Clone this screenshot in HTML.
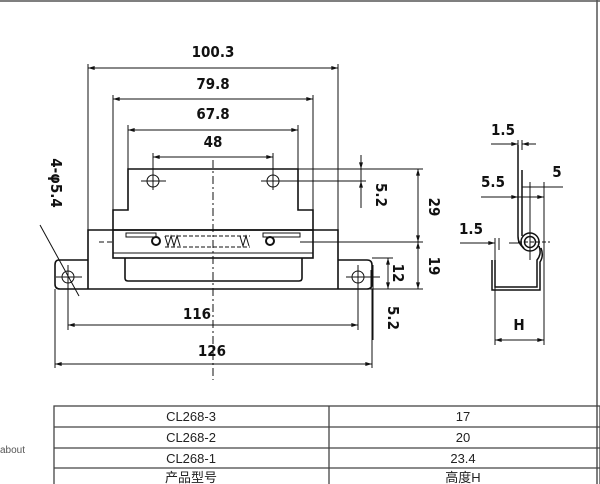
<!DOCTYPE html>
<html><head><meta charset="utf-8"><style>
html,body{margin:0;padding:0;background:#fff;width:600px;height:484px;overflow:hidden}
svg{display:block}
.d{font-family:"DejaVu Sans Condensed","DejaVu Sans","Liberation Sans",sans-serif;font-stretch:condensed;font-weight:bold;font-size:15px;fill:#111}
.t{font-family:"Liberation Sans","Noto Sans CJK SC",sans-serif;font-size:13px;fill:#222}
</style></head><body>
<svg width="600" height="484" viewBox="0 0 600 484" xmlns="http://www.w3.org/2000/svg">
<defs>
<marker id="a" viewBox="0 0 10 6" refX="10" refY="3" markerWidth="8" markerHeight="4" orient="auto-start-reverse"><path d="M0,0L10,3L0,6z" fill="#111"/></marker>
</defs>
<g stroke="#111" fill="none" stroke-width="1">
<line x1="0" y1="1" x2="600" y2="1" stroke="#555" stroke-width="1.5"/>
<line x1="597" y1="0" x2="597" y2="484" stroke="#555" stroke-width="1.5"/>
<line x1="88" y1="64" x2="88" y2="230"/><line x1="338" y1="64" x2="338" y2="230"/>
<line x1="88" y1="68" x2="338" y2="68" marker-start="url(#a)" marker-end="url(#a)"/>
<line x1="113" y1="95" x2="113" y2="230"/><line x1="313" y1="95" x2="313" y2="230"/>
<line x1="113" y1="99" x2="313" y2="99" marker-start="url(#a)" marker-end="url(#a)"/>
<line x1="128" y1="125" x2="128" y2="169"/><line x1="298" y1="125" x2="298" y2="169"/>
<line x1="128" y1="130" x2="298" y2="130" marker-start="url(#a)" marker-end="url(#a)"/>
<line x1="153" y1="153" x2="153" y2="190"/><line x1="273" y1="153" x2="273" y2="190"/>
<line x1="153" y1="157" x2="273" y2="157" marker-start="url(#a)" marker-end="url(#a)"/>
<path d="M113,230 V210 H128 V169 H298 V210 H313 V230" stroke-width="1.6"/>
<circle cx="153" cy="181" r="6"/><circle cx="273" cy="181" r="6"/>
<line x1="141" y1="181" x2="166" y2="181"/><line x1="153" y1="172" x2="153" y2="190"/>
<line x1="261" y1="181" x2="366" y2="181"/><line x1="273" y1="172" x2="273" y2="190"/>
<line x1="298" y1="169" x2="423" y2="169"/>
<path d="M88,289 V230 H338 V289" stroke-width="1.6"/>
<path d="M88,260 H59 Q55,260 55,265 V284 Q55,289 60,289 H367 Q372,289 372,284 V265 Q372,260 367,260 H338" stroke-width="1.6"/>
<rect x="113" y="230" width="200" height="28" stroke-width="1.6"/>
<line x1="113" y1="253" x2="313" y2="253"/>
<path d="M125,258 V278 Q125,281 128,281 H299 Q302,281 302,278 V258" stroke-width="1.6"/>
<rect x="126" y="233" width="30" height="4"/><rect x="263" y="233" width="37" height="4"/>
<circle cx="156" cy="241" r="4" stroke-width="2"/><circle cx="270" cy="241" r="4" stroke-width="2"/>
<path d="M165,236 l3,10 l3,-10 l3,10 l3,-10 l3,10" /><path d="M240,236 l3,10 l3,-10 l3,10"/>
<line x1="165" y1="236" x2="250" y2="236" stroke-dasharray="4,2"/>
<line x1="165" y1="247" x2="250" y2="247" stroke-dasharray="4,2"/>
<line x1="99" y1="242" x2="113" y2="242" stroke-dasharray="5,3"/>
<line x1="300" y1="242" x2="423" y2="242"/>
<circle cx="68" cy="277" r="6"/><circle cx="358" cy="277" r="6"/>
<line x1="56" y1="277" x2="82" y2="277"/><line x1="346" y1="277" x2="380" y2="277"/>
<line x1="68" y1="265" x2="68" y2="330"/><line x1="358" y1="265" x2="358" y2="330"/>
<line x1="55" y1="289" x2="55" y2="368"/><line x1="372" y1="289" x2="372" y2="368"/>
<line x1="68" y1="325" x2="358" y2="325" marker-start="url(#a)" marker-end="url(#a)"/>
<line x1="55" y1="364" x2="372" y2="364" marker-start="url(#a)" marker-end="url(#a)"/>
<line x1="213" y1="160" x2="213" y2="380" stroke-dasharray="8,3,2,3"/>
<line x1="40" y1="225" x2="79" y2="296"/>
<line x1="418" y1="169" x2="418" y2="242" marker-start="url(#a)" marker-end="url(#a)"/>
<line x1="418" y1="242" x2="418" y2="289" marker-start="url(#a)" marker-end="url(#a)"/>
<line x1="338" y1="289" x2="423" y2="289"/>
<line x1="361" y1="155" x2="361" y2="169" marker-end="url(#a)"/>
<line x1="361" y1="208" x2="361" y2="181" marker-end="url(#a)"/>
<line x1="361" y1="169" x2="361" y2="181"/>
<line x1="372" y1="258" x2="393" y2="258"/>
<line x1="388" y1="258" x2="388" y2="289" marker-start="url(#a)" marker-end="url(#a)"/>
<line x1="373" y1="265" x2="373" y2="340"/><line x1="371" y1="270" x2="371" y2="289" />
<g stroke-width="1.5">
<path d="M518,145 V236 Q518,244 524,248"/>
<path d="M522,170 V236"/>
<circle cx="530" cy="242" r="9"/><circle cx="530" cy="242" r="5.5"/>
<path d="M539,246 Q542,254 537,260 V287 H495 V260"/>
<path d="M541,248 Q544,256 540,262 V290 H492 V260"/>
</g>
<line x1="518" y1="140" x2="518" y2="150"/><line x1="522" y1="140" x2="522" y2="150"/>
<line x1="491" y1="144" x2="518" y2="144" marker-end="url(#a)"/>
<line x1="536" y1="144" x2="522" y2="144" marker-end="url(#a)"/>
<line x1="481" y1="197" x2="518" y2="197" marker-end="url(#a)"/>
<line x1="530" y1="182" x2="530" y2="260"/><line x1="544" y1="182" x2="544" y2="345"/>
<line x1="522" y1="187" x2="563" y2="187"/>
<line x1="518" y1="197" x2="544" y2="197" marker-end="url(#a)"/>
<line x1="460" y1="243" x2="495" y2="243" marker-end="url(#a)"/>
<line x1="495" y1="238" x2="495" y2="345"/><line x1="499" y1="238" x2="499" y2="250"/>
<line x1="509" y1="243" x2="520" y2="243"/><line x1="518" y1="242" x2="550" y2="242" stroke-dasharray="4,2"/>
<line x1="495" y1="340" x2="544" y2="340" marker-start="url(#a)" marker-end="url(#a)"/>
<g stroke="#444" stroke-width="1.3">
<rect x="54" y="406" width="546" height="80"/>
<line x1="54" y1="427" x2="600" y2="427"/><line x1="54" y1="448" x2="600" y2="448"/><line x1="54" y1="468" x2="600" y2="468"/>
<line x1="329" y1="406" x2="329" y2="484"/>
</g>
</g>
<g class="d" text-anchor="middle">
<text x="213" y="57">100.3</text>
<text x="213" y="89">79.8</text>
<text x="213" y="119">67.8</text>
<text x="213" y="147">48</text>
<text x="197" y="319">116</text>
<text x="212" y="356">126</text>
<text x="503" y="135">1.5</text>
<text x="493" y="187">5.5</text>
<text x="557" y="177">5</text>
<text x="471" y="234">1.5</text>
<text x="519" y="330">H</text>
<text transform="translate(376,195) rotate(90)">5.2</text>
<text transform="translate(429,207) rotate(90)">29</text>
<text transform="translate(429,266) rotate(90)">19</text>
<text transform="translate(393,273) rotate(90)">12</text>
<text transform="translate(388,318) rotate(90)">5.2</text>
<text transform="translate(51,183) rotate(90)">4-φ5.4</text>
</g>
<g class="t" text-anchor="middle">
<text x="191" y="421">CL268-3</text><text x="463" y="421">17</text>
<text x="191" y="442">CL268-2</text><text x="463" y="442">20</text>
<text x="191" y="463">CL268-1</text><text x="463" y="463">23.4</text>
<text x="191" y="482">产品型号</text><text x="463" y="482">高度H</text>
</g>
<text x="0" y="453" font-family="Liberation Sans,sans-serif" font-size="10" fill="#555">about</text>
</svg>
</body></html>
